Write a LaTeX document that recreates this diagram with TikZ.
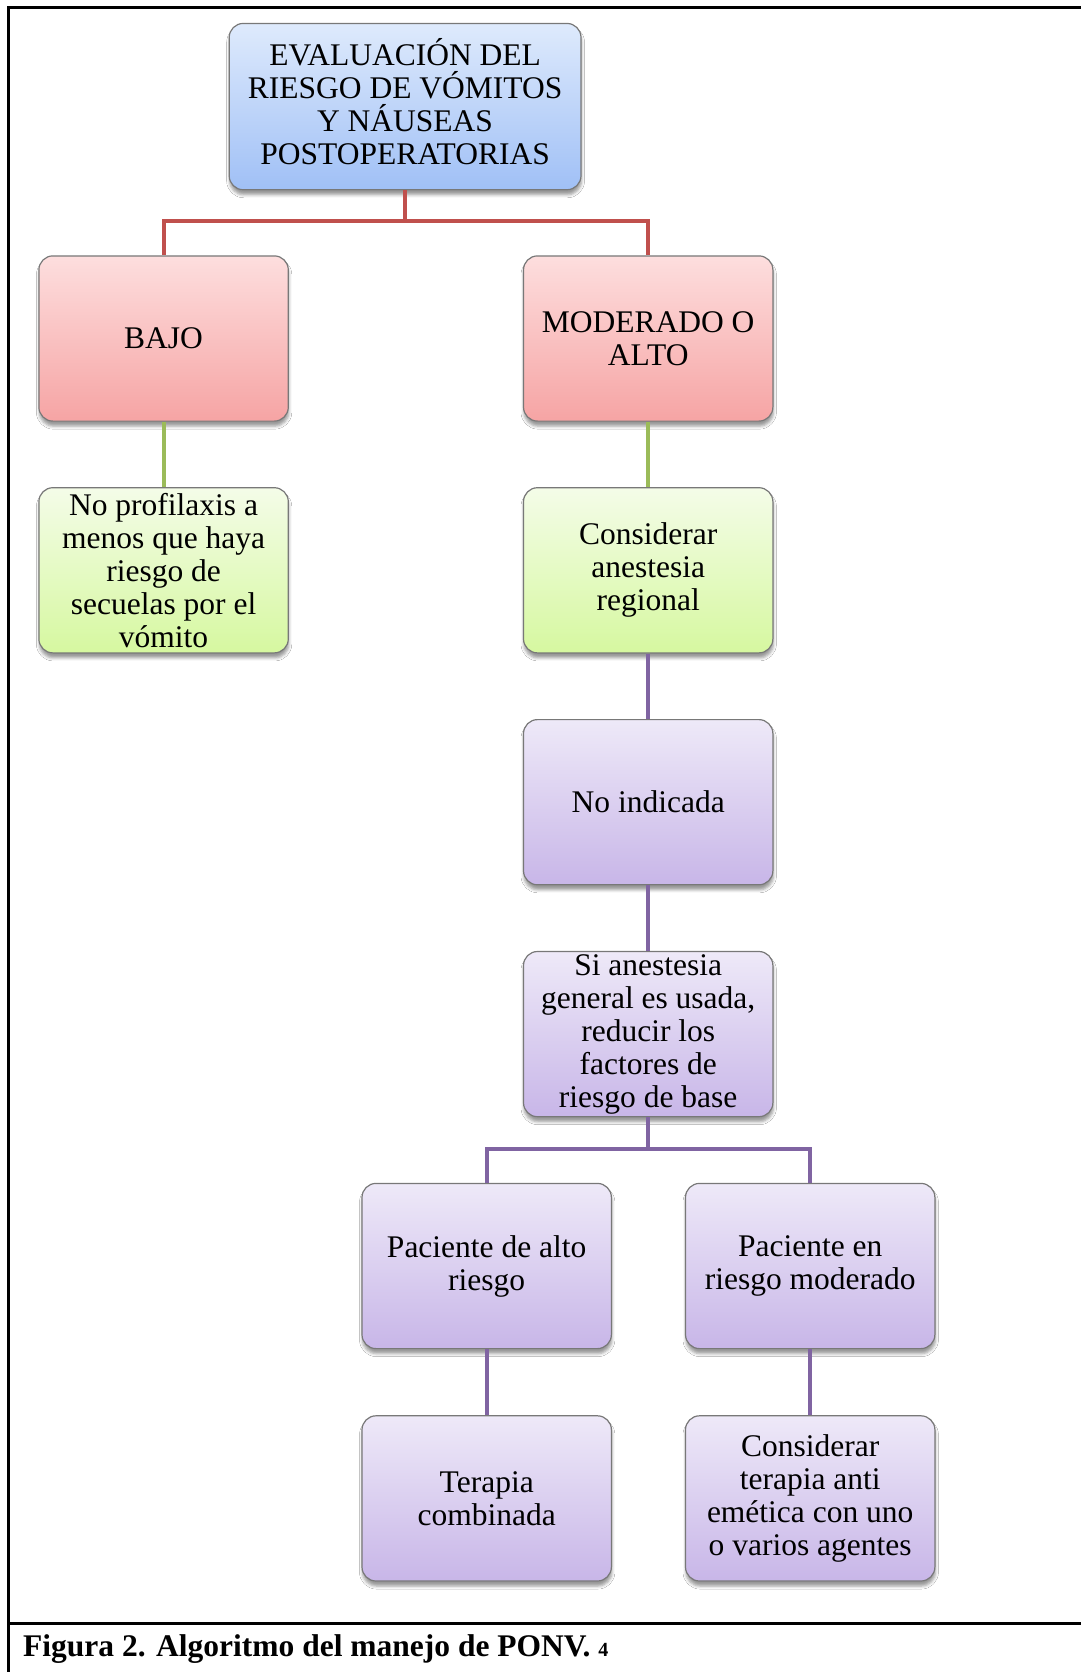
\documentclass[tikz,border=0pt]{standalone}
\usepackage{fontspec}
\setmainfont{Liberation Serif}
\usetikzlibrary{shadows.blur}
\definecolor{redline}{RGB}{192,80,77}
\definecolor{greenline}{RGB}{155,187,89}
\definecolor{purpleline}{RGB}{128,100,162}
\definecolor{bluetop}{RGB}{222,234,252}
\definecolor{bluebot}{RGB}{160,192,246}
\definecolor{redtop}{RGB}{253,222,222}
\definecolor{redbot}{RGB}{246,164,164}
\definecolor{greentop}{RGB}{244,252,232}
\definecolor{greenbot}{RGB}{214,248,160}
\definecolor{purptop}{RGB}{238,233,248}
\definecolor{purpbot}{RGB}{200,182,232}
\definecolor{boxedge}{RGB}{120,120,120}
\begin{document}
\begin{tikzpicture}[x=1pt,y=-1pt,
  box/.style={draw=boxedge, line width=1.2pt, rounded corners=14pt, align=center,
    inner sep=0pt, minimum width=249.4pt, minimum height=165.2pt,
    font=\fontsize{31.5}{33}\selectfont,
    blur shadow={shadow xshift=0.5pt, shadow yshift=-5pt, shadow blur radius=3pt, shadow opacity=40}},
  bluebox/.style={box, top color=bluetop, bottom color=bluebot},
  redbox/.style={box, top color=redtop, bottom color=redbot},
  greenbox/.style={box, top color=greentop, bottom color=greenbot},
  purpbox/.style={box, top color=purptop, bottom color=purpbot},
  boxtext/.style={align=center, inner sep=0pt, font=\fontsize{31.5}{33}\selectfont},
  conn/.style={line width=4pt}]
\useasboundingbox (0,0) rectangle (1081,1672);
\fill[white] (0,0) rectangle (1081,1672);
% frame
\draw[line width=3pt] (8.5,1672) -- (8.5,7.5) -- (1081,7.5);
\draw[line width=3pt] (8.5,1623.5) -- (1081,1623.5);
% nodes
\node[bluebox, minimum width=351.8pt, minimum height=166.3pt] (top) at (405.1,106.6) {};
\node[boxtext] (toptext) at ([yshift=5.3pt]top.center)
  {EVALUACIÓN DEL\\RIESGO DE VÓMITOS\\Y NÁUSEAS\\POSTOPERATORIAS};
\node[redbox] (bajo) at (163.6,338.5) {BAJO};
\node[redbox] (mod) at (648.2,338.5) {MODERADO O\\ALTO};
\node[greenbox] (nopro) at (163.6,570.3) {No profilaxis a\\menos que haya\\riesgo de\\secuelas por el\\vómito};
\node[greenbox] (cons) at (648.2,570.3) {Considerar\\anestesia\\regional};
\node[purpbox] (noind) at (648.2,802.2) {No indicada};
\node[purpbox] (si) at (648.2,1034.1) {Si anestesia\\general es usada,\\reducir los\\factores de\\riesgo de base};
\node[purpbox] (alto) at (486.7,1266) {Paciente de alto\\riesgo};
\node[purpbox] (modp) at (810.2,1266) {Paciente en\\riesgo moderado};
\node[purpbox] (terc) at (486.7,1498.4) {Terapia\\combinada};
\node[purpbox] (tera) at (810.2,1498.4) {Considerar\\terapia anti\\emética con uno\\o varios agentes};
% connectors
\coordinate (rj) at (405.1,220.7);
\draw[conn, redline] (top.south) -- (rj) -| (bajo.north);
\draw[conn, redline] (rj) -| (mod.north);
\draw[conn, greenline] (bajo.south) -- (nopro.north);
\draw[conn, greenline] (mod.south) -- (cons.north);
\draw[conn, purpleline] (cons.south) -- (noind.north);
\draw[conn, purpleline] (noind.south) -- (si.north);
\coordinate (pj) at (648.2,1149.3);
\draw[conn, purpleline] (si.south) -- (pj) -| (alto.north);
\draw[conn, purpleline] (pj) -| (modp.north);
\draw[conn, purpleline] (alto.south) -- (terc.north);
\draw[conn, purpleline] (modp.south) -- (tera.north);
% caption
\node[anchor=base west, inner sep=0pt, font=\bfseries\fontsize{31.5}{33}\selectfont] (cap) at (23,1656)
  {Figura 2. Algoritmo del manejo de PONV. {\fontsize{20}{20}\selectfont 4}};
\end{tikzpicture}
\end{document}
